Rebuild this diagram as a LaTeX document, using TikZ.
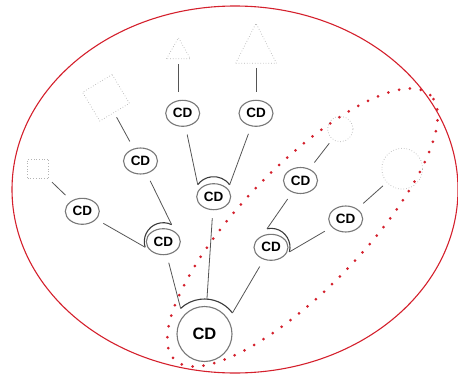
\documentclass[tikz,border=0pt]{standalone}
\usepackage{fontspec}
\setmainfont{Liberation Sans}
\usetikzlibrary{shapes.geometric}
\definecolor{redline}{HTML}{D4202C}
\definecolor{nodegray}{HTML}{787878}
\definecolor{linkgray}{HTML}{555555}
\definecolor{capgray}{HTML}{3A3A3A}
\definecolor{leafgray}{HTML}{B4B4B4}
\tikzset{
  cd/.style={ellipse, draw=nodegray, line width=1.1pt, fill=white,
    minimum width=34pt, minimum height=26pt, inner sep=0pt,
    font=\bfseries\fontsize{13.5}{14}\selectfont},
  rootnode/.style={circle, draw=nodegray, line width=1.1pt, fill=white,
    minimum size=55pt, inner sep=0pt,
    font=\bfseries\fontsize{16.5}{17}\selectfont},
  capline/.style={draw=capgray, line width=1.1pt},
  link/.style={draw=linkgray, line width=0.8pt, shorten >=8pt},
  leaflink/.style={draw=linkgray, line width=0.8pt, shorten <=8pt, shorten >=5pt},
  leaf/.style={draw=leafgray, dotted, line width=0.7pt, inner sep=0pt},
}
\begin{document}
\begin{tikzpicture}[x=1pt, y=1pt]
\useasboundingbox (0,0) rectangle (458,376);

% outer red boundary and dotted red grouping
\draw[redline, line width=1.1pt] (235,186.5) ellipse[x radius=223pt, y radius=183.5pt];
\draw[redline, line width=3pt, line cap=round, dash pattern=on 0pt off 11pt,
      rotate around={46:(302.5,148.5)}]
  (302.5,148.5) ellipse[x radius=184pt, y radius=61pt];

% tree nodes
\node[rootnode] (R) at (204.5,42) {CD};
\node[cd] (A)  at (163.3,134.3) {CD};
\node[cd] (B)  at (213.7,179.3) {CD};
\node[cd] (C)  at (271,128.7)   {CD};
\node[cd] (L1) at (82.3,164.7)  {CD};
\node[cd] (L2) at (140.5,215)   {CD};
\node[cd] (T1) at (182.7,262.7) {CD};
\node[cd] (T2) at (256,262.7)   {CD};
\node[cd] (R1) at (300.5,195.5) {CD};
\node[cd] (R2) at (345.7,157)   {CD};

% leaf outlines
\node[leaf, rectangle, minimum width=20.6pt, minimum height=19.3pt] (sq1) at (38,207.3) {};
\node[leaf, rectangle, rotate=31, minimum width=34.5pt, minimum height=33.5pt] (sq2) at (106,278.2) {};
\node[leaf, circle, minimum size=25.4pt] (c1) at (340.3,247) {};
\node[leaf, circle, minimum size=40.8pt] (c2) at (402.2,207.3) {};
\draw[leaf] (166.5,317.3) -- (178.5,338.2) -- (190.3,317.3) -- cycle;
\coordinate (tri1b) at (178.5,317.3);
\draw[leaf] (235.7,312.7) -- (256,352.7) -- (276.5,312.7) -- cycle;
\coordinate (tri2b) at (256,312.7);

% caps over branching nodes, with their attachment points
\draw[capline] (R.center) ++(37:35pt) arc[start angle=37, end angle=133, radius=35pt];
\path (R.center) ++(133:35pt) coordinate (Rl);
\path (R.center) ++(86:35pt)  coordinate (Rm);
\path (R.center) ++(37:35pt)  coordinate (Rr);

\draw[capline] (A.center) ++(64:19pt) arc[start angle=64, end angle=197, radius=19pt];
\path (A.center) ++(197:19pt) coordinate (Al);
\path (A.center) ++(64:19pt)  coordinate (Ar);

\draw[capline] (B.center) ++(37:20pt) arc[start angle=37, end angle=143, radius=20pt];
\path (B.center) ++(143:20pt) coordinate (Bl);
\path (B.center) ++(37:20pt)  coordinate (Br);

\draw[capline] (C.center) ++(-14:19pt) arc[start angle=-14, end angle=102, radius=19pt];
\path (C.center) ++(102:19pt) coordinate (Cl);
\path (C.center) ++(-14:19pt) coordinate (Cr);

% branches
\draw[link] (Rl) -- (A);
\draw[link] (Rm) -- (B);
\draw[link] (Rr) -- (C);
\draw[link] (Al) -- (L1);
\draw[link] (Ar) -- (L2);
\draw[link] (Bl) -- (T1);
\draw[link] (Br) -- (T2);
\draw[link] (Cl) -- (R1);
\draw[link] (Cr) -- (R2);

% leaf links
\draw[leaflink] (L1) -- (sq1);
\draw[leaflink] (L2) -- (sq2);
\draw[leaflink] (tri1b |- T1.north) -- (tri1b);
\draw[leaflink] (T2) -- (tri2b);
\draw[leaflink] (R1) -- (c1);
\draw[leaflink] (R2) -- (c2);
\end{tikzpicture}
\end{document}
